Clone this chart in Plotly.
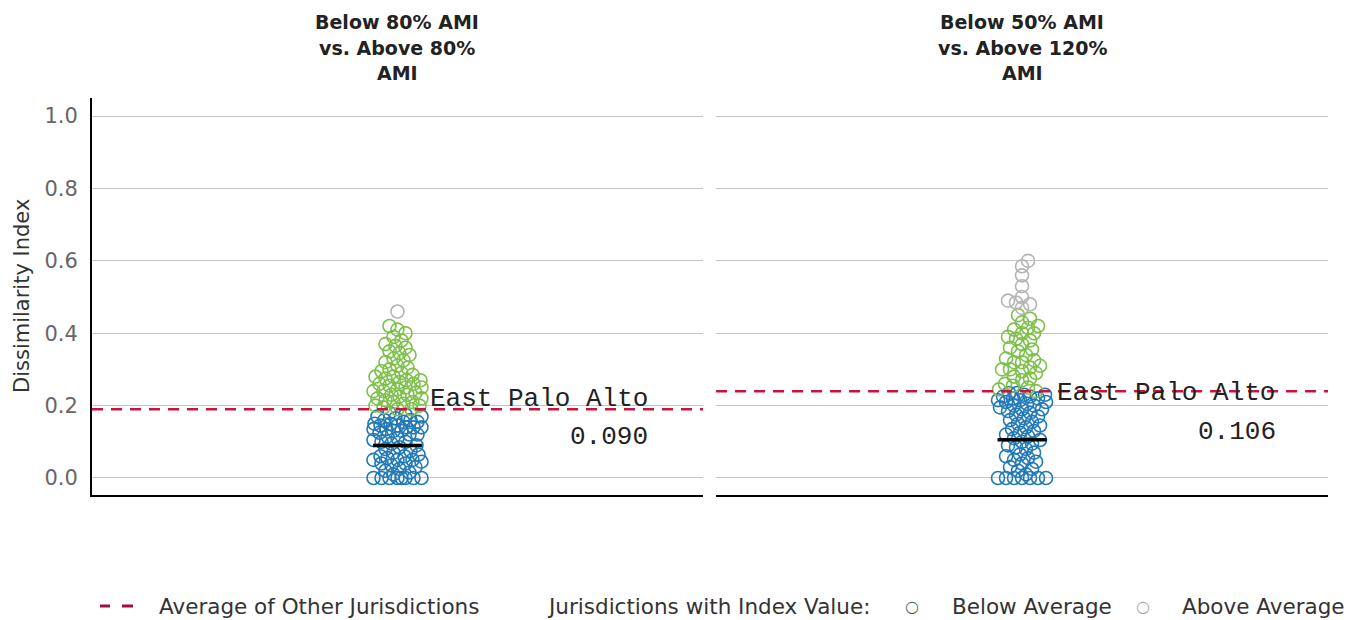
import plotly.graph_objects as go

# Dissimilarity index values by jurisdiction, two income comparisons
left_below = [0, 0, 0, 0, 0, 0, 0, 0, 0.01, 0.015, 0.02, 0.025, 0.03, 0.035, 0.04, 0.04,
              0.045, 0.05, 0.05, 0.05, 0.055, 0.06, 0.06, 0.065, 0.07, 0.075, 0.08, 0.085,
              0.09, 0.095, 0.10, 0.10, 0.105, 0.11, 0.115, 0.12, 0.12, 0.125, 0.13, 0.13,
              0.135, 0.135, 0.14, 0.14, 0.14, 0.145, 0.145, 0.15, 0.15, 0.155, 0.155, 0.16,
              0.16, 0.165, 0.17, 0.17, 0.175, 0.18]
left_above = [0.19, 0.19, 0.195, 0.20, 0.20, 0.205, 0.21, 0.21, 0.215, 0.22, 0.22, 0.225,
              0.23, 0.23, 0.235, 0.24, 0.24, 0.245, 0.25, 0.25, 0.255, 0.26, 0.26, 0.265,
              0.27, 0.27, 0.275, 0.28, 0.28, 0.285, 0.29, 0.295, 0.30, 0.305, 0.31, 0.32,
              0.325, 0.33, 0.34, 0.345, 0.35, 0.36, 0.365, 0.37, 0.38, 0.39, 0.40, 0.41,
              0.42]
left_high = [0.46]

right_below = [0, 0, 0, 0, 0, 0, 0, 0.01, 0.02, 0.025, 0.03, 0.04, 0.045, 0.05, 0.055, 0.06,
               0.065, 0.07, 0.08, 0.085, 0.09, 0.095, 0.10, 0.105, 0.11, 0.115, 0.12, 0.125,
               0.13, 0.135, 0.14, 0.145, 0.15, 0.155, 0.16, 0.165, 0.17, 0.175, 0.18, 0.185,
               0.19, 0.19, 0.195, 0.20, 0.20, 0.205, 0.21, 0.21, 0.215, 0.215, 0.22, 0.22,
               0.225, 0.225, 0.23, 0.23, 0.235, 0.235]
right_above = [0.24, 0.245, 0.25, 0.255, 0.26, 0.27, 0.275, 0.28, 0.29, 0.295, 0.30, 0.30,
               0.305, 0.31, 0.32, 0.32, 0.325, 0.33, 0.34, 0.35, 0.355, 0.36, 0.37, 0.38,
               0.385, 0.39, 0.40, 0.40, 0.41, 0.415, 0.42, 0.43, 0.44, 0.45]
right_high = [0.47, 0.48, 0.485, 0.49, 0.50, 0.53, 0.56, 0.585, 0.60]

panel_titles = [["Below 80% AMI", "vs. Above 80%", "AMI"],
                ["Below 50% AMI", "vs. Above 120%", "AMI"]]
averages = [0.19, 0.24]
epa_values = [0.090, 0.106]
city = "East Palo Alto"
y_ticks = [0.0, 0.2, 0.4, 0.6, 0.8, 1.0]

BLUE = "#2179b8"
GREEN = "#7cc04a"
GREY = "#b4b4b4"
RED = "#c8143c"

# plot-area geometry in pixels, used for the swarm layout
PLOT_W = 1236
PLOT_H = 397
Y_MIN, Y_MAX = -0.047, 1.05
DOMAINS = [[0, 0.4943], [0.5049, 1]]
px_per_y = PLOT_H / (Y_MAX - Y_MIN)


def swarm(values, px_per_x, min_dist=8.0, half_width=24):
    """Bounded beeswarm: nudge each point sideways (within +/-half_width px)
    to the nearest spot clear of its neighbours, else the least crowded spot."""
    placed = []
    xs = []
    cands = [0.0]
    for s in range(1, half_width + 1):
        cands += [float(s), -float(s)]
    for v in values:
        vy = v * px_per_y
        best, best_gap = 0.0, -1.0
        for c in cands:
            gap = min([((c - px) ** 2 + (vy - py) ** 2) ** 0.5 for px, py in placed] or [1e9])
            if gap >= min_dist:
                best = c
                break
            if gap > best_gap:
                best, best_gap = c, gap
        placed.append((best, vy))
        xs.append(best / px_per_x)
    return xs


fig = go.Figure()
groups = [(left_below, left_above, left_high), (right_below, right_above, right_high)]
colors = [BLUE, GREEN, GREY]

for i, grp in enumerate(groups):
    xa, ya = ("x", "y") if i == 0 else ("x2", "y2")
    px_per_x = (DOMAINS[i][1] - DOMAINS[i][0]) * PLOT_W / 2.0
    tagged = sorted((v, g) for g, vals in enumerate(grp) for v in vals)
    offs = swarm([v for v, _ in tagged], px_per_x)
    for g, col in enumerate(colors):
        xs = [o for (v, gg), o in zip(tagged, offs) if gg == g]
        ys = [v for (v, gg) in tagged if gg == g]
        fig.add_trace(go.Scatter(
            x=xs, y=ys, mode="markers", xaxis=xa, yaxis=ya,
            marker=dict(symbol="circle-open", size=13, color=col, line=dict(width=1.6, color=col)),
            showlegend=False, hoverinfo="y"))
    # average of other jurisdictions
    fig.add_trace(go.Scatter(
        x=[-1, 1], y=[averages[i]] * 2, mode="lines", xaxis=xa, yaxis=ya,
        line=dict(color=RED, width=2.5, dash="11px,8px"), showlegend=False, hoverinfo="skip"))
    # East Palo Alto marker
    fig.add_trace(go.Scatter(
        x=[-0.08, 0.08], y=[epa_values[i]] * 2, mode="lines", xaxis=xa, yaxis=ya,
        line=dict(color="black", width=3.5), showlegend=False, hoverinfo="skip"))

axis_common = dict(range=[-1, 1], showgrid=False, zeroline=False, showticklabels=False,
                   showline=True, linecolor="black", linewidth=2, fixedrange=True)
yaxis_common = dict(range=[Y_MIN, Y_MAX], tickvals=y_ticks, ticktext=[f"{t:.1f}" for t in y_ticks],
                    showgrid=True, gridcolor="#c4c4c4", gridwidth=1, zeroline=False,
                    fixedrange=True)

fig.update_layout(
    xaxis=dict(domain=DOMAINS[0], anchor="y", **axis_common),
    xaxis2=dict(domain=DOMAINS[1], anchor="y2", **axis_common),
    yaxis=dict(anchor="x", showline=True, linecolor="black", linewidth=2,
               tickfont=dict(family="DejaVu Sans", size=21, color="#666"),
               ticklabelstandoff=8, **yaxis_common),
    yaxis2=dict(anchor="x2", showline=False, showticklabels=False, **yaxis_common),
    width=1356, height=620,
    margin=dict(l=92, r=28, t=98, b=125),
    paper_bgcolor="white", plot_bgcolor="white",
    showlegend=False,
)

annotations = []
title_y = [1.191, 1.126, 1.063]
centers = [(DOMAINS[0][0] + DOMAINS[0][1]) / 2, (DOMAINS[1][0] + DOMAINS[1][1]) / 2]
for i, lines in enumerate(panel_titles):
    for ln, ty in zip(lines, title_y):
        annotations.append(dict(text=ln, xref="paper", yref="paper", x=centers[i], y=ty,
                                xanchor="center", yanchor="middle", showarrow=False,
                                font=dict(family="DejaVu Sans", size=19, color="#222", weight="bold")))

# city label and value
label_pos = [(428, 650, 0.218, 0.113), (1055, 1278, 0.235, 0.127)]
for i, (x0, x1, ly, vy) in enumerate(label_pos):
    yr = "y" if i == 0 else "y2"
    annotations.append(dict(text=city, xref="paper", yref=yr,
                            x=(x0 - 92) / PLOT_W, y=ly, xanchor="left", yanchor="middle",
                            showarrow=False,
                            font=dict(family="Liberation Mono", size=26, color="#222")))
    annotations.append(dict(text=f"{epa_values[i]:.3f}", xref="paper", yref=yr,
                            x=(x1 - 92) / PLOT_W, y=vy, xanchor="right", yanchor="middle",
                            showarrow=False,
                            font=dict(family="Liberation Mono", size=26, color="#222")))

annotations.append(dict(text="Dissimilarity Index", xref="paper", yref="paper",
                        x=(22 - 92) / PLOT_W, y=(495 - 296) / PLOT_H, textangle=-90,
                        xanchor="center", yanchor="middle", showarrow=False,
                        font=dict(family="DejaVu Sans", size=21, color="#333")))

# legend row
leg_y = (495 - 606) / PLOT_H
legend_font = dict(family="DejaVu Sans", size=21.5, color="#333")
for txt, px in (("Average of Other Jurisdictions", 157), ("Jurisdictions with Index Value:", 545),
                ("Below Average", 950), ("Above Average", 1180)):
    annotations.append(dict(text=txt, xref="paper", yref="paper", x=(px - 92) / PLOT_W, y=leg_y,
                            xanchor="left", yanchor="middle", showarrow=False, font=legend_font))
for px, col in ((912, "#4a6a50"), (1143, "#a8a8a8")):
    annotations.append(dict(text="○", xref="paper", yref="paper", x=(px - 92) / PLOT_W, y=leg_y,
                            xanchor="center", yanchor="middle", showarrow=False,
                            font=dict(family="DejaVu Sans", size=16, color=col)))

shapes = []
for x0, x1 in ((100, 110), (122, 133)):
    shapes.append(dict(type="line", xref="paper", yref="paper",
                       x0=(x0 - 92) / PLOT_W, x1=(x1 - 92) / PLOT_W, y0=leg_y, y1=leg_y,
                       line=dict(color="#a0103a", width=3)))

fig.update_layout(annotations=annotations, shapes=shapes)
fig.write_html("out.html")
